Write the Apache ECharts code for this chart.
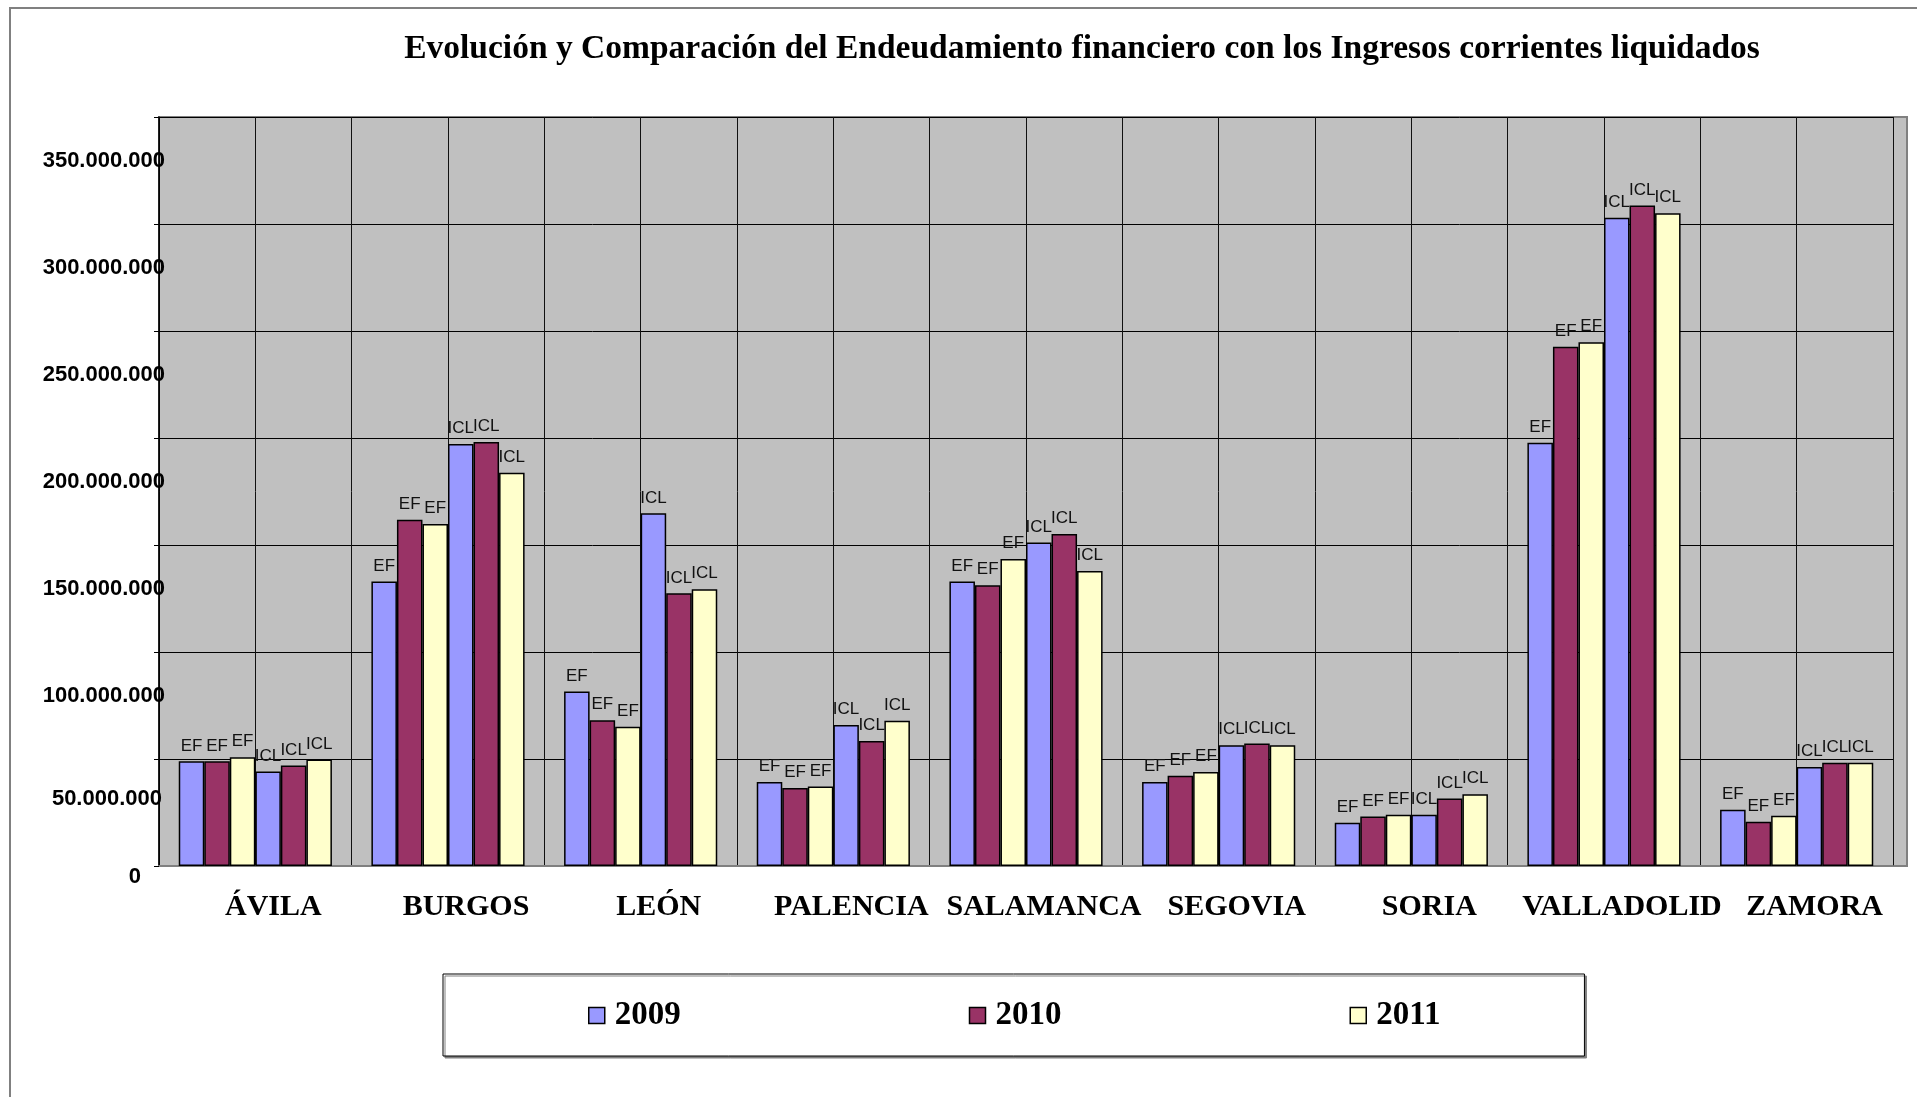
<!DOCTYPE html>
<html>
<head>
<meta charset="utf-8">
<script src="https://cdn.jsdelivr.net/npm/echarts@6/dist/echarts.min.js"></script>
<style>
html,body{margin:0;padding:0;background:#fff;}
#chart{width:1917px;height:1097px;}
</style>
</head>
<body>
<div id="chart"></div>
<script>
const title = 'Evolución y Comparación del Endeudamiento financiero con los Ingresos corrientes liquidados';
const provinces = ['ÁVILA','BURGOS','LEÓN','PALENCIA','SALAMANCA','SEGOVIA','SORIA','VALLADOLID','ZAMORA'];
const years = ['2009','2010','2011'];
// Endeudamiento financiero (EF)
const ef2009 = [48900000,133000000,81500000,39300000,133000000,39300000,20200000,197800000,26300000];
const ef2010 = [48900000,161800000,68100000,36400000,131200000,42200000,23100000,242600000,20700000];
const ef2011 = [50800000,159800000,65100000,37200000,143400000,43900000,24000000,244800000,23500000];
// Ingresos corrientes liquidados (ICL)
const icl2009 = [44200000,197200000,164800000,65900000,151200000,56400000,24000000,302900000,46300000];
const icl2010 = [47000000,198100000,127400000,58400000,155100000,57300000,31500000,308700000,48300000];
const icl2011 = [49800000,183800000,129300000,67900000,137900000,56400000,33500000,305000000,48300000];
const yMin = 0, yMax = 350000000, yInterval = 50000000;

const colors = {'2009':'#9999FF','2010':'#993366','2011':'#FFFFCC'};
const halves = provinces.flatMap(p => [p + ' EF', p + ' ICL']);

function fmt(v){ return String(v).replace(/\B(?=(\d{3})+(?!\d))/g, '.'); }

function barSeries(name, data, tag){
  return {
    type:'bar', name:name, data:data, xAxisIndex:0, yAxisIndex:0,
    barGap:'0%', barCategoryGap:'20.5%',
    itemStyle:{color:colors[name], borderColor:'#000', borderWidth:1.5},
    label:{show:true, position:'top', distance:7, formatter:tag,
      fontFamily:'Liberation Sans, Arial, sans-serif', fontSize:17, color:'#111'}
  };
}

const chart = echarts.init(document.getElementById('chart'), null, {renderer:'canvas'});
chart.setOption({
  backgroundColor:'#fff',
  animation:false,
  title:{
    text:title, left:1077, top:27, textAlign:'center',
    textStyle:{fontFamily:'Liberation Serif, Times New Roman, serif', fontWeight:'bold', fontSize:33.5, color:'#000'}
  },
  graphic:[{type:'rect', shape:{x:10, y:8, width:1930, height:1110}, style:{fill:'none', stroke:'#808080', lineWidth:2}, silent:true}],
  legend:{
    data:years, left:443, top:974, orient:'horizontal',
    icon:'rect', itemWidth:16, itemHeight:16, itemGap:288,
    padding:[25,144,24,145],
    borderColor:'#000', borderWidth:1, backgroundColor:'#fff',
    shadowColor:'#808080', shadowOffsetX:2, shadowOffsetY:2, shadowBlur:0,
    itemStyle:{borderColor:'#000', borderWidth:1.5},
    textStyle:{fontFamily:'Liberation Serif, Times New Roman, serif', fontWeight:'bold', fontSize:33, color:'#000', padding:[0,0,0,5]}
  },
  grid:[
    {left:159, right:24, top:117, bottom:231, show:false},
    {left:159, right:10, top:117, bottom:231, show:true, backgroundColor:'#C0C0C0', borderColor:'#808080', borderWidth:2}
  ],
  xAxis:[
    {type:'category', data:provinces, gridIndex:0, position:'bottom',
     axisLine:{show:true, lineStyle:{color:'#808080', width:2}},
     axisTick:{show:false}, splitLine:{show:false},
     axisLabel:{interval:0, hideOverlap:false, margin:26, fontFamily:'Liberation Serif, Times New Roman, serif', fontWeight:'bold', fontSize:30, color:'#000', lineHeight:30, padding:[0,0,0,36]}},
    {type:'category', data:halves, gridIndex:0, position:'bottom',
     axisLine:{show:false}, axisTick:{show:false}, axisLabel:{show:false},
     splitLine:{show:true, interval:0, lineStyle:{color:'#111', width:1}}},
    {type:'value', gridIndex:1, show:false, splitLine:{show:false}}
  ],
  yAxis:[
    {type:'value', gridIndex:0, min:yMin, max:yMax, interval:yInterval,
     axisLine:{show:true, lineStyle:{color:'#000', width:1.5}},
     axisTick:{show:true, inside:false, length:5, lineStyle:{color:'#000'}},
     splitLine:{show:true, lineStyle:{color:'#000', width:1}},
     axisLabel:{margin:-6, color:'#000', fontFamily:'Liberation Sans, Arial, sans-serif', fontWeight:'bold', fontSize:22,
       formatter:function(v){
         const s = fmt(v);
         if (v === 0) return '{z|' + s + '}';
         if (v === 50000000) return '{f|' + s + '}';
         return '{n|' + s + '}';
       },
       rich:{
         n:{fontFamily:'Liberation Sans, Arial, sans-serif', fontWeight:'bold', fontSize:22, color:'#000', padding:[88,0,0,0]},
         f:{fontFamily:'Liberation Sans, Arial, sans-serif', fontWeight:'bold', fontSize:22, color:'#000', padding:[80,3,0,0]},
         z:{fontFamily:'Liberation Sans, Arial, sans-serif', fontWeight:'bold', fontSize:22, color:'#000', padding:[22,24,0,0]}
       }}},
    {type:'value', gridIndex:1, show:false, splitLine:{show:false}}
  ],
  series:[
    barSeries('2009', ef2009, 'EF'),
    barSeries('2010', ef2010, 'EF'),
    barSeries('2011', ef2011, 'EF'),
    barSeries('2009', icl2009, 'ICL'),
    barSeries('2010', icl2010, 'ICL'),
    barSeries('2011', icl2011, 'ICL')
  ]
});
</script>
</body>
</html>
